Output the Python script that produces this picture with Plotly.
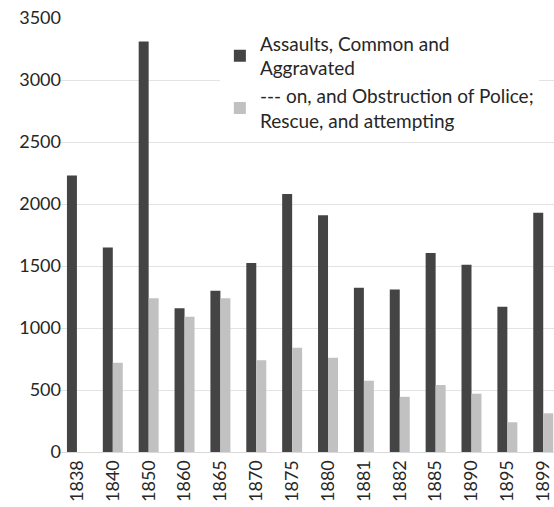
import plotly.graph_objects as go

years = ["1838", "1840", "1850", "1860", "1865", "1870", "1875", "1880",
         "1881", "1882", "1885", "1890", "1895", "1899"]
assaults = [2230, 1650, 3310, 1160, 1300, 1525, 2080, 1910, 1325, 1310, 1605, 1510, 1172, 1930]
police = [None, 720, 1240, 1090, 1240, 740, 840, 760, 575, 445, 540, 470, 240, 312]

FONT = "Lato, 'Open Sans', sans-serif"

fig = go.Figure()
fig.add_trace(go.Bar(x=years, y=assaults, name="Assaults, Common and<br>Aggravated",
                     marker=dict(color="#444444", line=dict(width=0))))
fig.add_trace(go.Bar(x=years, y=police, name="--- on, and Obstruction of Police;<br>Rescue, and attempting",
                     marker=dict(color="#c1c1c1", line=dict(width=0))))

fig.update_layout(
    width=554, height=507,
    margin=dict(l=59, r=0, t=18, b=55),
    paper_bgcolor="white", plot_bgcolor="white",
    barmode="group", bargap=0.443, bargroupgap=0,
    font=dict(family=FONT, size=18, color="#262626"),
    showlegend=True,
    legend=dict(x=0.325, y=0.985, xanchor="left", yanchor="top",
                bgcolor="white", font=dict(size=19, color="#262626"),
                tracegroupgap=17, itemsizing="constant"),
    xaxis=dict(type="category", range=[-0.5, 13.3], tickangle=-90,
               showgrid=False, showline=True, linecolor="#d9d9d9", linewidth=1,
               ticks="", tickfont=dict(size=18)),
    yaxis=dict(range=[0, 3500], dtick=500, showgrid=True, gridcolor="#e3e3e3",
               gridwidth=1, zeroline=False, showline=False, ticks="",
               ticklabelstandoff=-3, tickfont=dict(size=18)),
)

fig.write_html("out.html")
